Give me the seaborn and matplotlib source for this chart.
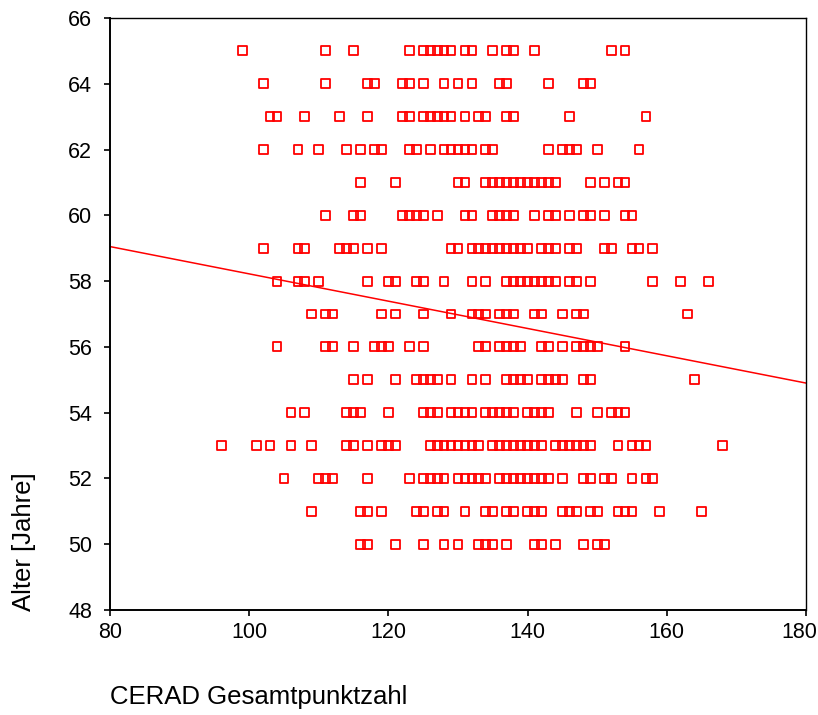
import numpy as np
import pandas as pd
import matplotlib
matplotlib.use('Agg')
import matplotlib.pyplot as plt
import matplotlib.transforms as mtransforms
import seaborn as sns

# CERAD scores for each age (one list per year of age)
scores_65 = [99, 111, 115, 123, 125, 126, 127, 128, 129, 131, 132, 135, 137, 138, 141, 152, 154]
scores_64 = [102, 111, 117, 118, 122, 123, 125, 128, 130, 132, 136, 137, 143, 148, 149]
scores_63 = [103, 104, 108, 113, 117, 122, 123, 125, 126, 127, 128, 129, 131, 133, 134, 137, 138, 146, 157]
scores_62 = [102, 107, 110, 114, 116, 118, 119, 123, 124, 126, 128, 129, 130, 131, 132, 134, 135, 143, 145,
             146, 147, 150, 156]
scores_61 = [116, 121, 130, 131, 134, 135, 136, 137, 138, 139, 140, 141, 142, 143, 144, 149, 151, 153, 154]
scores_60 = [111, 115, 116, 122, 123, 124, 125, 127, 131, 132, 135, 136, 137, 138, 141, 143, 144, 146, 148,
             149, 151, 154, 155]
scores_59 = [102, 107, 108, 113, 114, 115, 117, 119, 129, 130, 132, 133, 134, 135, 136, 137, 138, 139, 140,
             142, 143, 144, 146, 147, 151, 152, 155, 156, 158]
scores_58 = [104, 107, 108, 110, 117, 120, 121, 124, 125, 128, 132, 134, 137, 138, 139, 140, 141, 142, 143,
             144, 146, 147, 149, 158, 162, 166]
scores_57 = [109, 111, 112, 119, 121, 125, 129, 132, 133, 134, 136, 137, 138, 141, 142, 145, 147, 148, 163]
scores_56 = [104, 111, 112, 115, 118, 119, 120, 123, 125, 133, 134, 136, 137, 138, 139, 142, 143, 145, 147,
             148, 149, 150, 154]
scores_55 = [115, 117, 121, 124, 125, 126, 127, 129, 132, 134, 137, 138, 139, 140, 142, 143, 144, 145, 148,
             149, 164]
scores_54 = [106, 108, 114, 115, 116, 120, 125, 126, 127, 129, 130, 131, 132, 134, 135, 136, 137, 138, 140,
             141, 142, 143, 147, 150, 152, 153, 154]
scores_53 = [96, 101, 103, 106, 109, 114, 115, 117, 119, 120, 121, 126, 127, 128, 129, 130, 131, 132, 133,
             135, 136, 137, 138, 139, 140, 141, 142, 144, 145, 146, 147, 148, 149, 153, 155, 156, 157, 168]
scores_52 = [105, 110, 111, 112, 117, 123, 125, 126, 127, 128, 130, 131, 132, 133, 134, 136, 137, 138, 139,
             140, 141, 142, 143, 145, 148, 149, 151, 152, 155, 157, 158]
scores_51 = [109, 116, 117, 119, 124, 125, 127, 128, 131, 134, 135, 137, 138, 140, 141, 142, 145, 146, 147,
             149, 150, 153, 154, 155, 159, 165]
scores_50 = [116, 117, 121, 125, 128, 130, 133, 134, 135, 137, 141, 142, 144, 148, 150, 151]

ages = list(range(50, 66))
score_lists = [scores_50, scores_51, scores_52, scores_53, scores_54, scores_55, scores_56, scores_57,
               scores_58, scores_59, scores_60, scores_61, scores_62, scores_63, scores_64, scores_65]

# Fit line as shown in the picture (endpoints at the axis limits)
fit_scores = [80, 180]
fit_ages = [59.05, 54.9]

rows = []
for age, sc in zip(ages, score_lists):
    for s in sc:
        rows.append({'score': s, 'age': age})
df = pd.DataFrame(rows)

sns.set_style('ticks')
plt.rcParams['font.family'] = ['Liberation Sans', 'DejaVu Sans']
plt.rcParams['text.color'] = 'black'

fig = plt.figure(figsize=(8.18, 7.15), dpi=100)
ax = fig.add_axes([110 / 818, 1 - 610 / 715, 696 / 818, 592 / 715])

sns.scatterplot(data=df, x='score', y='age', marker='s', s=40, facecolor='none',
                edgecolor='red', linewidth=1.3, ax=ax, legend=False, clip_on=False)
sns.lineplot(x=fit_scores, y=fit_ages, color='red', linewidth=1.1, ax=ax)

ax.set_xlim(80, 180)
ax.set_ylim(48, 66)
ax.set_xticks(range(80, 181, 20))
ax.set_yticks(range(48, 67, 2))
ax.tick_params(labelsize=15.5, length=4, width=1.2, colors='black')
ax.tick_params(axis='y', pad=9)
ax.tick_params(axis='x', pad=5)
for side in ['left', 'bottom']:
    ax.spines[side].set_linewidth(1.4)
    ax.spines[side].set_color('black')
for side in ['top', 'right']:
    ax.spines[side].set_linewidth(1.0)
    ax.spines[side].set_color('black')

# keep the last x label inside the figure
last = ax.get_xticklabels()[-1]
last.set_transform(last.get_transform() + mtransforms.ScaledTranslation(-7 / 100, 0, fig.dpi_scale_trans))

ax.set_xlabel('')
ax.set_ylabel('')
fig.text(110 / 818, 1 - 697 / 715, 'CERAD Gesamtpunktzahl', fontsize=18.5, ha='left', va='center')
fig.text(24 / 818, 1 - 542 / 715, 'Alter [Jahre]', fontsize=18.5, rotation=90, ha='center', va='center')

fig.savefig('out.png', dpi=100)
